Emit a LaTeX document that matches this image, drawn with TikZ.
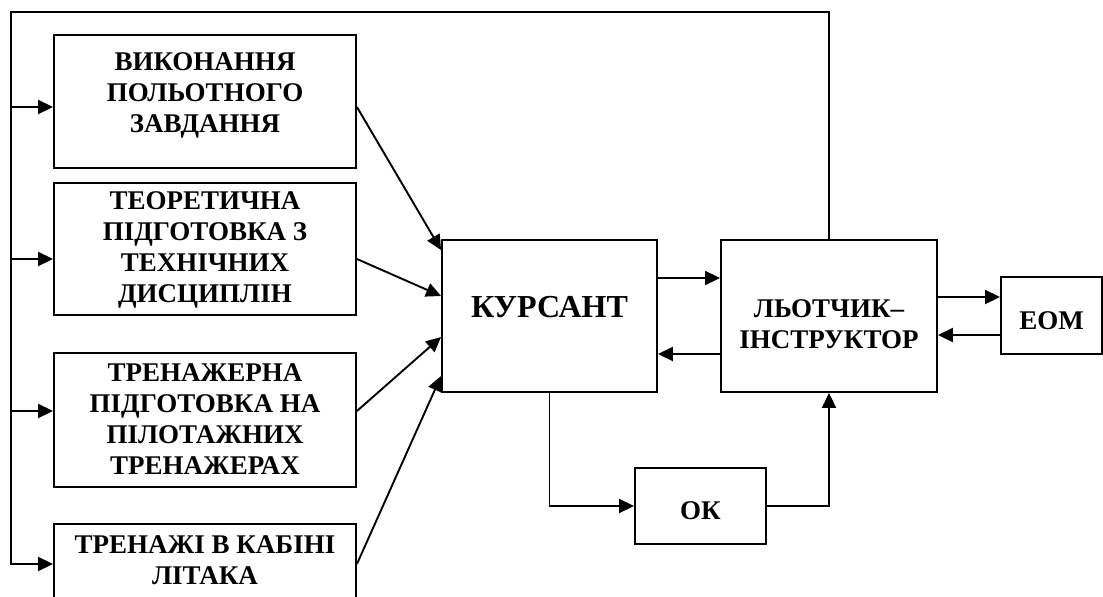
\documentclass[tikz,border=0pt]{standalone}
\usepackage{fontspec}
\setmainfont{Liberation Serif}
\usetikzlibrary{arrows.meta}

\begin{document}
\begin{tikzpicture}[x=1pt,y=-1pt,>={Triangle[length=15pt,width=14pt]},line width=1.9pt,font=\bfseries\fontsize{27}{31}\selectfont]
 \tikzstyle{blok}=[draw,rectangle,inner sep=0pt]
 \tikzstyle{napys}=[align=center,inner sep=0pt]
 \useasboundingbox (0,0) rectangle (1103,597);
   % bloky
   \node[blok,minimum width=302,minimum height=133] (v1) at (205,101.5) {};
   \node[blok,minimum width=302,minimum height=132] (v2) at (205,249) {};
   \node[blok,minimum width=302,minimum height=134] (v3) at (205,420) {};
   \node[blok,minimum width=302,minimum height=134] (v4) at (205,591) {};
   \node[blok,minimum width=215,minimum height=152] (kurs) at (549.5,316) {};
   \node[blok,minimum width=216,minimum height=152] (lt) at (829,316) {};
   \node[blok,minimum width=101,minimum height=77] (eom) at (1051.5,315.5) {};
   \node[blok,minimum width=131,minimum height=76] (ok) at (700.5,506) {};
   % napysy
   \node[napys] (v1t) at ([yshift=6pt]v1.center) {ВИКОНАННЯ\\ПОЛЬОТНОГО\\ЗАВДАННЯ};
   \node[napys] (v2t) at ([yshift=-1pt]v2.center) {ТЕОРЕТИЧНА\\ПІДГОТОВКА З\\ТЕХНІЧНИХ\\ДИСЦИПЛІН};
   \node[napys] (v3t) at ([yshift=1pt]v3.center) {ТРЕНАЖЕРНА\\ПІДГОТОВКА НА\\ПІЛОТАЖНИХ\\ТРЕНАЖЕРАХ};
   \node[napys] (v4t) at ([yshift=31pt]v4.center) {ТРЕНАЖІ В КАБІНІ\\ЛІТАКА};
   \node[napys,font=\bfseries\fontsize{32}{36}\selectfont] (kurst) at ([yshift=9pt]kurs.center) {КУРСАНТ};
   \node[napys] (ltt) at ([yshift=-8pt]lt.center) {ЛЬОТЧИК–\\ІНСТРУКТОР};
   \node[napys] (eomt) at ([yshift=-5pt]eom.center) {ЕОМ};
   \node[napys] (okt) at ([yshift=-5pt]ok.center) {ОК};
   % shyna zliva
   \coordinate (bus) at (11,12);
   \coordinate (v1in) at ([yshift=-5.5pt]v1.west);
   \coordinate (v2in) at ([yshift=-10pt]v2.west);
   \coordinate (v3in) at ([yshift=9pt]v3.west);
   \coordinate (v4in) at ([yshift=27pt]v4.west);
   \draw[->] (lt.north) |- (bus) |- (v4in);
   \path[->]
    (bus |- v1in) edge (v1in)
    (bus |- v2in) edge (v2in)
    (bus |- v3in) edge (v3in);
   % do kursanta
   \path[->]
    ([yshift=-5.5pt]v1.east) edge ([yshift=66pt]kurs.west)
    ([yshift=-10pt]v2.east) edge ([yshift=20pt]kurs.west)
    ([yshift=9pt]v3.east) edge ([yshift=-21pt]kurs.west)
    ([yshift=27pt]v4.east) edge ([yshift=-60pt]kurs.west);
   \path[->]
    ([yshift=38pt]kurs.east) edge ([yshift=38pt]lt.west)
    ([yshift=-38pt]lt.west) edge ([yshift=-38pt]kurs.east)
    ([yshift=19pt]lt.east) edge ([yshift=19pt]lt.east -| eom.west)
    ([yshift=-19pt]lt.east -| eom.west) edge ([yshift=-19pt]lt.east);
   \draw[->] (kurs.south) |- (ok.west);
   \draw[->] (ok.east) -| (lt.south);
\end{tikzpicture}
\end{document}
